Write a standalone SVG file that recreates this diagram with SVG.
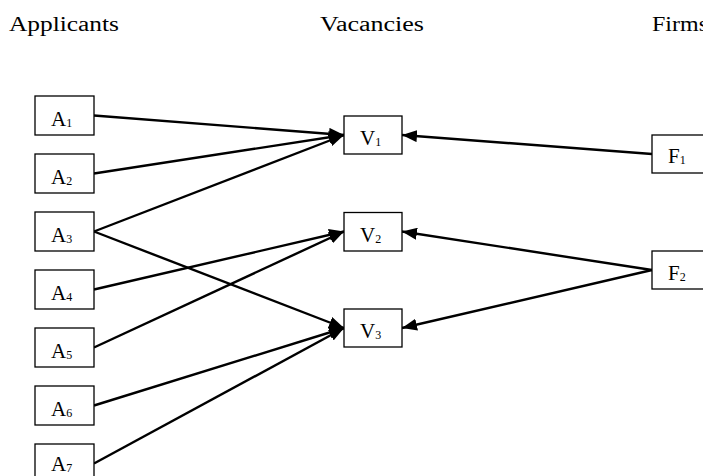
<svg xmlns="http://www.w3.org/2000/svg" width="703" height="476" viewBox="0 0 703 476">
<defs>
<marker id="ah" markerUnits="userSpaceOnUse" markerWidth="15" markerHeight="12" refX="15" refY="6" orient="auto">
<path d="M0,0 L15,6 L0,12 z" fill="#000"/>
</marker>
<style>
.box{fill:#fff;stroke:#000;stroke-width:1.3}
.t{font-family:"Liberation Serif","Times New Roman",serif;fill:#000}
.h{font-size:20px}
.l{font-size:21px}
.s{font-size:12px}
.c{stroke:#000;stroke-width:2.4;fill:none;marker-end:url(#ah)}
</style>
</defs>
<rect width="703" height="476" fill="#fff"/>
<g id="headers">
<text class="t h" x="9" y="31" textLength="110" lengthAdjust="spacingAndGlyphs">Applicants</text>
<text class="t h" x="320" y="31" textLength="104" lengthAdjust="spacingAndGlyphs">Vacancies</text>
<text class="t h" x="652" y="31" textLength="56" lengthAdjust="spacingAndGlyphs">Firms</text>
</g>
<g id="connectors">
<line class="c" x1="94" y1="115.5" x2="344" y2="135"/>
<line class="c" x1="94" y1="173.5" x2="344" y2="135"/>
<line class="c" x1="94" y1="231.5" x2="344" y2="135"/>
<line class="c" x1="94" y1="231.5" x2="344" y2="328"/>
<line class="c" x1="94" y1="289.5" x2="344" y2="231.5"/>
<line class="c" x1="94" y1="347.5" x2="344" y2="231.5"/>
<line class="c" x1="94" y1="405.5" x2="344" y2="328"/>
<line class="c" x1="94" y1="463.5" x2="344" y2="328"/>
<line class="c" x1="652" y1="154" x2="402" y2="135"/>
<line class="c" x1="652" y1="270" x2="402" y2="231.5"/>
<line class="c" x1="652" y1="270" x2="402" y2="328"/>
</g>
<g id="A1"><rect class="box" x="35" y="96" width="59" height="39"/><text class="t l" x="51" y="126">A<tspan class="s" dy="1">1</tspan></text></g>
<g id="A2"><rect class="box" x="35" y="154" width="59" height="39"/><text class="t l" x="51" y="184">A<tspan class="s" dy="1">2</tspan></text></g>
<g id="A3"><rect class="box" x="35" y="212" width="59" height="39"/><text class="t l" x="51" y="242">A<tspan class="s" dy="1">3</tspan></text></g>
<g id="A4"><rect class="box" x="35" y="270" width="59" height="39"/><text class="t l" x="51" y="300">A<tspan class="s" dy="1">4</tspan></text></g>
<g id="A5"><rect class="box" x="35" y="328" width="59" height="39"/><text class="t l" x="51" y="358">A<tspan class="s" dy="1">5</tspan></text></g>
<g id="A6"><rect class="box" x="35" y="386" width="59" height="39"/><text class="t l" x="51" y="416">A<tspan class="s" dy="1">6</tspan></text></g>
<g id="A7"><rect class="box" x="35" y="444" width="59" height="39"/><text class="t l" x="51" y="471">A<tspan class="s" dy="1">7</tspan></text></g>
<g id="V1"><rect class="box" x="344" y="116" width="58" height="38"/><text class="t l" x="360" y="145">V<tspan class="s" dy="1">1</tspan></text></g>
<g id="V2"><rect class="box" x="344" y="212.5" width="58" height="38.5"/><text class="t l" x="360" y="241.5">V<tspan class="s" dy="1">2</tspan></text></g>
<g id="V3"><rect class="box" x="344" y="309" width="58" height="38"/><text class="t l" x="360" y="338">V<tspan class="s" dy="1">3</tspan></text></g>
<g id="F1"><rect class="box" x="652" y="135" width="60" height="38"/><text class="t l" x="668" y="163">F<tspan class="s" dy="1">1</tspan></text></g>
<g id="F2"><rect class="box" x="652" y="251" width="60" height="38"/><text class="t l" x="668" y="280">F<tspan class="s" dy="1">2</tspan></text></g>
</svg>
